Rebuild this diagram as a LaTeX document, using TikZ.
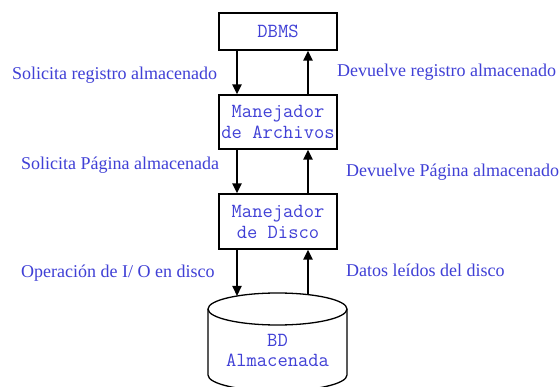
\documentclass[tikz,border=0pt]{standalone}
\usepackage{fontspec}
\setmainfont{Liberation Serif}
\usetikzlibrary{arrows.meta}
\definecolor{txtblue}{RGB}{64,64,214}
\begin{document}
\begin{tikzpicture}[x=1pt,y=-1pt,
  box/.style={draw, line width=1.3pt, minimum width=118pt, fill=white, text=txtblue,
    font=\ttfamily\fontsize{20}{21}\selectfont, align=center, inner sep=0pt},
  lbl/.style={text=txtblue, font=\fontsize{18}{20}\selectfont, inner sep=0pt, anchor=west},
  arr/.style={line width=2.2pt, -{Triangle[width=9pt,length=10pt]}},
  cyl/.style={line width=1.3pt, fill=white}]
\useasboundingbox (0,0) rectangle (560,387);
\fill[white] (0,0) rectangle (560,387);
\begin{scope}
\clip (0,0) rectangle (560,387);
% boxes
\node[box, minimum height=37pt] (dbms) at (278,31.5) {DBMS};
\node[box, minimum height=54pt] (arch) at (278,122) {Manejador\\de Archivos};
\node[box, minimum height=55pt] (disco) at (278,221.5) {Manejador\\de Disco};
% cylinder
\draw[cyl] (208,309) -- (208,375) arc[start angle=180, end angle=360, x radius=69.5pt, y radius=16pt] -- (347,309);
\draw[cyl] (277.5,309) ellipse [x radius=69.5pt, y radius=16pt];
\node[text=txtblue, font=\ttfamily\fontsize{20}{20}\selectfont, align=center, inner sep=0pt] (db) at (277.5,350) {BD\\Almacenada};
\coordinate (dbin) at (237,296);
\coordinate (dbout) at (308,294.6);
\coordinate (xd) at (237,0);
\coordinate (xu) at (308,0);
% arrows
\draw[arr] (dbms.south -| xd) -- (arch.north -| xd);
\draw[arr] (arch.north -| xu) -- (dbms.south -| xu);
\draw[arr] (arch.south -| xd) -- (disco.north -| xd);
\draw[arr] (disco.north -| xu) -- (arch.south -| xu);
\draw[arr] (disco.south -| xd) -- (dbin);
\draw[arr] (dbout) -- (disco.south -| xu);
% labels
\node[lbl] (l1) at (12,75) {Solicita registro almacenado};
\node[lbl] (l2) at (21,165) {Solicita Página almacenada};
\node[lbl] (l3) at (21,273) {Operación de I/ O en disco};
\node[lbl] (r1) at (337,72) {Devuelve registro almacenado};
\node[lbl] (r2) at (346,172) {Devuelve Página almacenado};
\node[lbl] (r3) at (346,270) {Datos leídos del disco};
\end{scope}
\end{tikzpicture}
\end{document}
